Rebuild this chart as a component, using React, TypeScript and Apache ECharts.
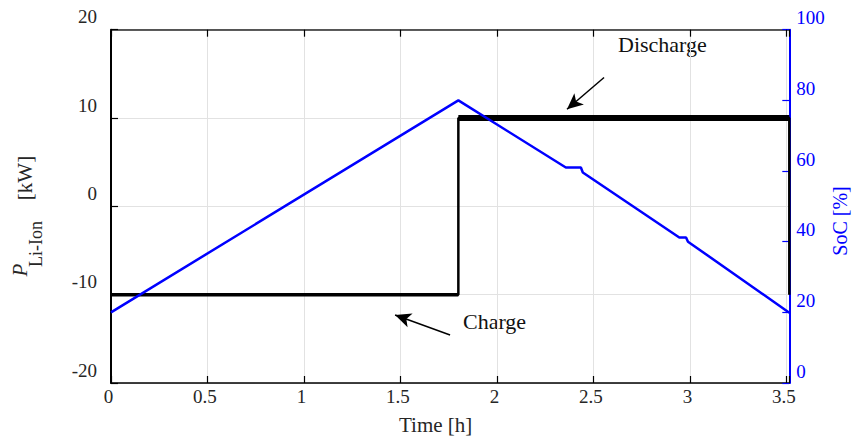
import { useEffect, useRef } from 'react';
import * as echarts from 'echarts';

// ---- data ----
const X_MAX = 3.515;
const xTickStep = 0.5;
const powerTime = [0, 1.8, 1.8, 3.515, 3.515];
const powerKW = [-10, -10, 10, 10, -10];
const chargeBandTime = [0, 1.8];
const chargeBandKW = [-10, -10];
const dischargeBandTime = [1.8, 3.515];
const dischargeBandKW = [10, 10];
const socTime = [0, 1.8, 2.357, 2.435, 2.445, 2.945, 2.98, 2.99, 3.515];
const socPct = [20, 80, 61.0, 61.0, 59.6, 41.2, 41.2, 40.0, 19.9];
// arrows: [tailT, tailKW, tipT, tipKW]
const dischargeArrow = [2.555, 14.59, 2.363, 10.99];
const chargeArrow = [1.757, -14.56, 1.472, -12.3];
const annotationTexts = ['Discharge', 'Charge'];

const SERIF = "'Liberation Serif', 'Times New Roman', serif";
const BLUE = '#0000ff';
const INK = '#262626';

const zip = (a: number[], b: number[]) => a.map((v, i) => [v, b[i]]);

export default function App() {
  const ref = useRef<HTMLDivElement>(null);
  useEffect(() => {
    if (!ref.current) return;
    const chart = echarts.init(ref.current, null, { renderer: 'svg' });
    const arrowLine = (a: number[]) => [
      { coord: [a[0], a[1]], symbol: 'none' },
      { coord: [a[2], a[3]], symbol: 'arrow' },
    ];
    chart.setOption({
      animation: false,
      grid: {
        left: 111,
        right: 65.7,
        top: 29.7,
        bottom: 62,
        containLabel: false,
        outerBoundsMode: 'none',
      },
      xAxis: [
        {
          type: 'value',
          position: 'bottom',
          min: 0,
          max: X_MAX,
          interval: xTickStep,
          name: 'Time [h]',
          nameLocation: 'middle',
          nameGap: 31,
          nameTextStyle: { fontFamily: SERIF, fontSize: 21, color: INK, padding: [0, 29, 0, 0] },
          axisLine: { show: true, onZero: false, lineStyle: { color: '#000', width: 1.5 } },
          axisTick: { show: true, inside: true, length: 7, lineStyle: { color: '#000', width: 1.2 } },
          axisLabel: {
            fontFamily: SERIF,
            fontSize: 19,
            color: INK,
            margin: 4,
            padding: [0, 5, 0, 0],
            formatter: (v: number) =>
              Math.abs(v / xTickStep - Math.round(v / xTickStep)) < 1e-6 ? String(v) : '',
          },
          splitLine: { show: true, lineStyle: { color: '#e2e2e2', width: 1 } },
        },
        {
          type: 'value',
          position: 'top',
          min: 0,
          max: X_MAX,
          interval: xTickStep,
          axisLine: { show: true, onZero: false, lineStyle: { color: INK, width: 1.5 } },
          axisTick: { show: true, inside: true, length: 7, lineStyle: { color: '#000', width: 1.2 } },
          axisLabel: { show: false },
          splitLine: { show: false },
        },
      ],
      yAxis: [
        {
          type: 'value',
          position: 'left',
          min: -20,
          max: 20,
          interval: 10,
          axisLine: { show: true, onZero: false, lineStyle: { color: '#000', width: 2 } },
          axisTick: { show: true, inside: true, length: 7, lineStyle: { color: '#000', width: 1.2 } },
          axisLabel: {
            fontFamily: SERIF,
            fontSize: 19,
            color: INK,
            margin: 14,
            verticalAlign: 'bottom',
            lineHeight: 26,
          },
          splitLine: { show: true, lineStyle: { color: '#e2e2e2', width: 1 } },
        },
        {
          type: 'value',
          position: 'right',
          min: 0,
          max: 100,
          interval: 20,
          axisLine: { show: true, onZero: false, lineStyle: { color: BLUE, width: 2 } },
          axisTick: { show: true, inside: true, length: 7, lineStyle: { color: BLUE, width: 1.2 } },
          axisLabel: {
            fontFamily: SERIF,
            fontSize: 19,
            color: BLUE,
            margin: 7,
            verticalAlign: 'bottom',
            lineHeight: 24,
          },
          splitLine: { show: false },
        },
      ],
      series: [
        {
          type: 'line',
          name: 'P Li-Ion',
          xAxisIndex: 0,
          yAxisIndex: 0,
          data: zip(powerTime, powerKW),
          symbol: 'none',
          lineStyle: { color: '#000', width: 2.5 },
          z: 2,
          silent: true,
          markLine: {
            silent: true,
            symbol: ['none', 'arrow'],
            symbolSize: [11, 16],
            label: { show: false },
            emphasis: { disabled: true },
            lineStyle: { color: '#000', width: 1.5, type: 'solid' },
            data: [arrowLine(dischargeArrow), arrowLine(chargeArrow)],
          },
        },
        {
          type: 'line',
          name: 'charge band',
          xAxisIndex: 0,
          yAxisIndex: 0,
          data: zip(chargeBandTime, chargeBandKW),
          symbol: 'none',
          lineStyle: { color: '#000', width: 3.5 },
          z: 2,
          silent: true,
        },
        {
          type: 'line',
          name: 'discharge band',
          xAxisIndex: 0,
          yAxisIndex: 0,
          data: zip(dischargeBandTime, dischargeBandKW),
          symbol: 'none',
          lineStyle: { color: '#000', width: 6 },
          z: 2,
          silent: true,
        },
        {
          type: 'line',
          name: 'SoC',
          xAxisIndex: 0,
          yAxisIndex: 1,
          data: zip(socTime, socPct),
          symbol: 'none',
          lineStyle: { color: BLUE, width: 2.5 },
          z: 3,
          silent: true,
        },
      ],
      graphic: [
        {
          type: 'text',
          x: 618,
          y: 44,
          style: { text: annotationTexts[0], fontFamily: SERIF, fontSize: 22, fill: '#111', align: 'left', verticalAlign: 'middle' },
        },
        {
          type: 'text',
          x: 463,
          y: 321,
          style: { text: annotationTexts[1], fontFamily: SERIF, fontSize: 22, fill: '#111', align: 'left', verticalAlign: 'middle' },
        },
        {
          type: 'text',
          x: 20,
          y: 270,
          rotation: Math.PI / 2,
          style: { text: 'P', fontFamily: SERIF, fontSize: 21, fontStyle: 'italic', fill: INK, align: 'center', verticalAlign: 'middle' },
        },
        {
          type: 'text',
          x: 35.6,
          y: 244,
          rotation: Math.PI / 2,
          style: { text: 'Li-Ion', fontFamily: SERIF, fontSize: 18, fill: INK, align: 'center', verticalAlign: 'middle' },
        },
        {
          type: 'text',
          x: 24.5,
          y: 178,
          rotation: Math.PI / 2,
          style: { text: '[kW]', fontFamily: SERIF, fontSize: 21, fill: INK, align: 'center', verticalAlign: 'middle' },
        },
        {
          type: 'text',
          x: 840,
          y: 221,
          rotation: Math.PI / 2,
          style: { text: 'SoC [%]', fontFamily: SERIF, fontSize: 20, fill: BLUE, align: 'center', verticalAlign: 'middle' },
        },
      ],
    });
    return () => chart.dispose();
  }, []);
  return <div ref={ref} style={{ position: 'absolute', left: 0, top: 0, width: 855, height: 445 }} />;
}
